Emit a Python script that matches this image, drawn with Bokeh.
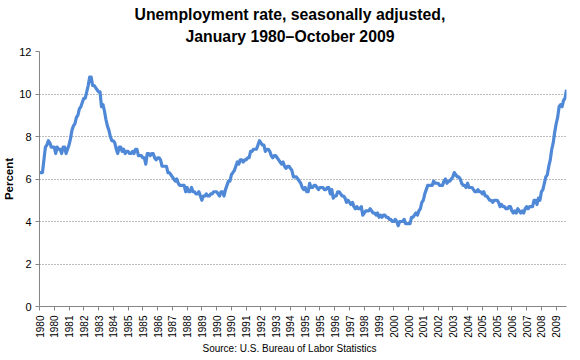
from bokeh.plotting import figure
from bokeh.models import Range1d, FixedTicker, Title, ColumnDataSource
from bokeh.embed import file_html
from bokeh.resources import INLINE
import math

# Monthly unemployment rate, Jan 1980 - Oct 2009 (percent, seasonally adjusted)
rate_1980 = [6.3, 6.3, 6.3, 6.9, 7.5, 7.6, 7.8, 7.7, 7.5, 7.5, 7.5, 7.2]
rate_1981 = [7.5, 7.4, 7.4, 7.2, 7.5, 7.5, 7.2, 7.4, 7.6, 7.9, 8.3, 8.5]
rate_1982 = [8.6, 8.9, 9.0, 9.3, 9.4, 9.6, 9.8, 9.8, 10.1, 10.4, 10.8, 10.8]
rate_1983 = [10.4, 10.4, 10.3, 10.2, 10.1, 10.1, 9.4, 9.5, 9.2, 8.8, 8.5, 8.3]
rate_1984 = [8.0, 7.8, 7.8, 7.7, 7.4, 7.2, 7.5, 7.5, 7.3, 7.4, 7.2, 7.3]
rate_1985 = [7.3, 7.2, 7.2, 7.3, 7.2, 7.4, 7.4, 7.1, 7.1, 7.1, 7.0, 7.0]
rate_1986 = [6.7, 7.2, 7.2, 7.1, 7.2, 7.2, 7.0, 6.9, 7.0, 7.0, 6.9, 6.6]
rate_1987 = [6.6, 6.6, 6.6, 6.3, 6.3, 6.2, 6.1, 6.0, 5.9, 6.0, 5.8, 5.7]
rate_1988 = [5.7, 5.7, 5.7, 5.4, 5.6, 5.4, 5.4, 5.6, 5.4, 5.4, 5.3, 5.3]
rate_1989 = [5.4, 5.2, 5.0, 5.2, 5.2, 5.3, 5.2, 5.2, 5.3, 5.3, 5.4, 5.4]
rate_1990 = [5.4, 5.3, 5.2, 5.4, 5.4, 5.2, 5.5, 5.7, 5.9, 5.9, 6.2, 6.3]
rate_1991 = [6.4, 6.6, 6.8, 6.7, 6.9, 6.9, 6.8, 6.9, 6.9, 7.0, 7.0, 7.3]
rate_1992 = [7.3, 7.4, 7.4, 7.4, 7.6, 7.8, 7.7, 7.6, 7.6, 7.3, 7.4, 7.4]
rate_1993 = [7.3, 7.1, 7.0, 7.1, 7.1, 7.0, 6.9, 6.8, 6.7, 6.8, 6.6, 6.5]
rate_1994 = [6.6, 6.6, 6.5, 6.4, 6.1, 6.1, 6.1, 6.0, 5.9, 5.8, 5.6, 5.5]
rate_1995 = [5.6, 5.4, 5.4, 5.8, 5.6, 5.6, 5.7, 5.7, 5.6, 5.5, 5.6, 5.6]
rate_1996 = [5.6, 5.5, 5.5, 5.6, 5.6, 5.3, 5.5, 5.1, 5.2, 5.2, 5.4, 5.4]
rate_1997 = [5.3, 5.2, 5.2, 5.1, 4.9, 5.0, 4.9, 4.8, 4.9, 4.7, 4.6, 4.7]
rate_1998 = [4.6, 4.6, 4.7, 4.3, 4.4, 4.5, 4.5, 4.5, 4.6, 4.5, 4.4, 4.4]
rate_1999 = [4.3, 4.4, 4.2, 4.3, 4.2, 4.3, 4.3, 4.2, 4.2, 4.1, 4.1, 4.0]
rate_2000 = [4.0, 4.1, 4.0, 3.8, 4.0, 4.0, 4.0, 4.1, 3.9, 3.9, 3.9, 3.9]
rate_2001 = [4.2, 4.2, 4.3, 4.4, 4.3, 4.5, 4.6, 4.9, 5.0, 5.3, 5.5, 5.7]
rate_2002 = [5.7, 5.7, 5.7, 5.9, 5.8, 5.8, 5.8, 5.7, 5.7, 5.7, 5.9, 6.0]
rate_2003 = [5.8, 5.9, 5.9, 6.0, 6.1, 6.3, 6.2, 6.1, 6.1, 6.0, 5.8, 5.7]
rate_2004 = [5.7, 5.6, 5.8, 5.6, 5.6, 5.6, 5.5, 5.4, 5.4, 5.5, 5.4, 5.4]
rate_2005 = [5.3, 5.4, 5.2, 5.2, 5.1, 5.0, 5.0, 4.9, 5.0, 5.0, 5.0, 4.9]
rate_2006 = [4.7, 4.8, 4.7, 4.7, 4.6, 4.6, 4.7, 4.7, 4.5, 4.4, 4.5, 4.4]
rate_2007 = [4.6, 4.5, 4.4, 4.5, 4.4, 4.6, 4.7, 4.6, 4.7, 4.7, 4.7, 5.0]
rate_2008 = [5.0, 4.8, 5.1, 5.0, 5.4, 5.5, 5.8, 6.1, 6.2, 6.6, 6.9, 7.4]
rate_2009 = [7.7, 8.2, 8.6, 8.9, 9.4, 9.5, 9.4, 9.7, 9.8, 10.2]

yearly = [rate_1980, rate_1981, rate_1982, rate_1983, rate_1984, rate_1985,
          rate_1986, rate_1987, rate_1988, rate_1989, rate_1990, rate_1991,
          rate_1992, rate_1993, rate_1994, rate_1995, rate_1996, rate_1997,
          rate_1998, rate_1999, rate_2000, rate_2001, rate_2002, rate_2003,
          rate_2004, rate_2005, rate_2006, rate_2007, rate_2008, rate_2009]
rate = [v for yr in yearly for v in yr]
month_index = list(range(len(rate)))

# Category-axis labels, one every 10 months
tick_labels = ["1980", "1980", "1981", "1982", "1983", "1984", "1985", "1985",
               "1986", "1987", "1988", "1989", "1990", "1990", "1991", "1992",
               "1993", "1994", "1995", "1995", "1996", "1997", "1998", "1999",
               "2000", "2000", "2001", "2002", "2003", "2004", "2005", "2005",
               "2006", "2007", "2008", "2009"]
tick_pos = [i * 10 for i in range(len(tick_labels))]
y_ticks = [0, 2, 4, 6, 8, 10, 12]

FONT = "Liberation Sans"
AXIS_GRAY = "#868686"

p = figure(frame_width=527, frame_height=255, output_backend="svg", toolbar_location=None,
           x_range=Range1d(0, len(rate) - 1), y_range=Range1d(0, 12),
           min_border_left=31, min_border_right=6, min_border_top=43,
           min_border_bottom=40)
p.outline_line_color = None
p.background_fill_color = "white"
p.border_fill_color = "white"

src = ColumnDataSource(dict(x=month_index, y=rate))
p.line("x", "y", source=src, line_color="#4F88D6", line_width=3.2, line_join="round")

# Axes
p.xaxis.ticker = FixedTicker(ticks=tick_pos)
p.xaxis.major_label_overrides = {pos: lab for pos, lab in zip(tick_pos, tick_labels)}
p.xaxis.major_label_orientation = math.pi / 2
p.xaxis.major_label_text_font = FONT
p.xaxis.major_label_text_font_size = "10px"
p.xaxis.major_label_text_color = "black"
p.xaxis.major_label_standoff = 5

p.yaxis.ticker = FixedTicker(ticks=y_ticks)
p.yaxis.major_label_text_font = FONT
p.yaxis.major_label_text_font_size = "11px"
p.yaxis.major_label_text_color = "black"
p.yaxis.major_label_standoff = 4
p.yaxis.axis_label = "Percent"
p.yaxis.axis_label_text_font = FONT
p.yaxis.axis_label_text_font_size = "11.5px"
p.yaxis.axis_label_text_font_style = "bold"
p.yaxis.axis_label_text_color = "black"
p.yaxis.axis_label_standoff = 1

for ax in (p.xaxis, p.yaxis):
    ax.axis_line_color = AXIS_GRAY
    ax.major_tick_line_color = AXIS_GRAY
    ax.major_tick_out = 4
    ax.major_tick_in = 0
    ax.minor_tick_line_color = None

p.xgrid.grid_line_color = None
p.ygrid.grid_line_color = "#7a7a7a"
p.ygrid.grid_line_dash = "1 2"
p.ygrid.grid_line_width = 1

# Titles (stacked outward from the frame)
t2 = Title(text="January 1980\u2013October 2009", align="left", offset=146,
           vertical_align="top",
           text_font=FONT, text_font_size="15.8px", text_font_style="bold",
           text_color="black", standoff=10)
t1 = Title(text="Unemployment rate, seasonally adjusted,", align="left", offset=95,
           text_font=FONT, text_font_size="15.8px", text_font_style="bold",
           text_color="black", standoff=-1)
spacer = Title(text=" ", text_font_size="2px", standoff=0)
p.add_layout(t2, "above")
p.add_layout(t1, "above")
p.add_layout(spacer, "above")

src_note = Title(text="Source: U.S. Bureau of Labor Statistics", align="left", offset=163,
                 text_font=FONT, text_font_size="10px", text_font_style="normal",
                 text_color="black", standoff=0)
p.add_layout(src_note, "below")

open("out.html", "w").write(file_html(p, INLINE))
